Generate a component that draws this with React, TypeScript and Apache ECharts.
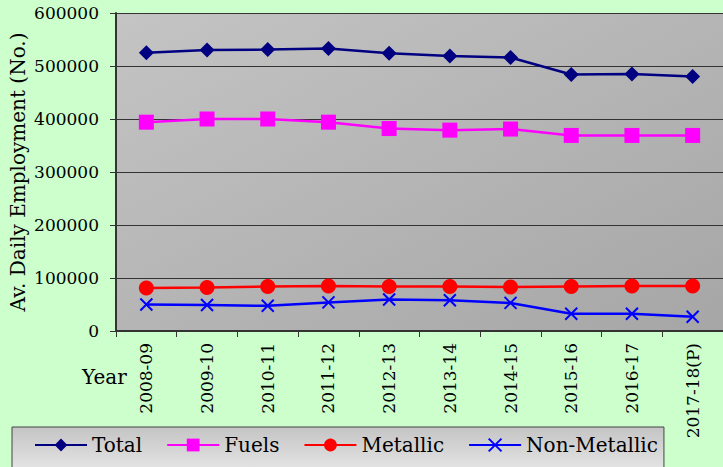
import React, { useEffect, useRef } from "react";
import * as echarts from "echarts";

const years = [
  "2008-09", "2009-10", "2010-11", "2011-12", "2012-13",
  "2013-14", "2014-15", "2015-16", "2016-17", "2017-18(P)",
];
const total = [525000, 530000, 531000, 533000, 524000, 519000, 516000, 484000, 485000, 480000];
const fuels = [394000, 400000, 400000, 394000, 382000, 379000, 381000, 369000, 369000, 369000];
const metallic = [81000, 82000, 84000, 85000, 84000, 84000, 83000, 84000, 85000, 85000];
const nonMetallic = [50000, 49000, 47500, 54000, 59500, 58000, 53000, 32500, 32500, 27000];

const SERIF = "DejaVu Serif";
const CROSS = "path://M0,0L10,10M10,0L0,10";

export default function App() {
  const ref = useRef<HTMLDivElement>(null);

  useEffect(() => {
    if (!ref.current) return;
    const chart = echarts.init(ref.current, undefined, { renderer: "svg" });
    chart.setOption({
      animation: false,
      backgroundColor: "#CCFFCC",
      textStyle: { fontFamily: SERIF },
      grid: {
        left: 116,
        right: 0,
        top: 13,
        bottom: 136,
        containLabel: false,
        outerBoundsMode: "none",
        show: true,
        borderWidth: 0,
        backgroundColor: new echarts.graphic.LinearGradient(0, 0, 1, 1, [
          { offset: 0, color: "#C4C4C4" },
          { offset: 1, color: "#A6A6A6" },
        ]),
      },
      xAxis: {
        type: "category",
        data: years,
        boundaryGap: true,
        axisLine: { lineStyle: { color: "#333333", width: 2 } },
        axisTick: { show: true, length: 6, lineStyle: { color: "#333333" } },
        axisLabel: {
          interval: 0,
          rotate: 90,
          margin: 12,
          color: "#000",
          fontFamily: SERIF,
          fontSize: 17,
        },
      },
      yAxis: {
        type: "value",
        min: 0,
        max: 600000,
        interval: 100000,
        axisLine: { show: true, lineStyle: { color: "#333333", width: 2 } },
        axisTick: { show: true, length: 6, lineStyle: { color: "#333333" } },
        axisLabel: {
          color: "#000",
          fontFamily: SERIF,
          fontSize: 17,
          margin: 17,
          formatter: (v: number) => String(v),
        },
        splitLine: { lineStyle: { color: "#333333", width: 1 } },
      },
      legend: {
        left: 12,
        top: 427,
        padding: [8, 6, 14, 22],
        itemWidth: 52,
        itemHeight: 16,
        itemGap: 24,
        borderColor: "#444444",
        borderWidth: 1,
        backgroundColor: new echarts.graphic.LinearGradient(0, 0, 0, 1, [
          { offset: 0, color: "#C4C4C4" },
          { offset: 1, color: "#E4E4E4" },
        ]),
        textStyle: { color: "#000", fontFamily: SERIF, fontSize: 20 },
        data: ["Total", "Fuels", "Metallic", "Non-Metallic"],
      },
      graphic: [
        {
          type: "text",
          x: 18,
          y: 172,
          rotation: Math.PI / 2,
          style: {
            text: "Av. Daily Employment (No.)",
            fill: "#000",
            fontFamily: SERIF,
            fontSize: 20,
            align: "center",
            verticalAlign: "middle",
          },
        },
        {
          type: "text",
          left: 82,
          top: 367,
          style: { text: "Year", fill: "#000", fontFamily: SERIF, fontSize: 20 },
        },
      ],
      series: [
        {
          name: "Total",
          type: "line",
          data: total,
          symbol: "diamond",
          symbolSize: 15,
          lineStyle: { color: "#000080", width: 2.5 },
          itemStyle: { color: "#000080" },
        },
        {
          name: "Fuels",
          type: "line",
          data: fuels,
          symbol: "rect",
          symbolSize: 15,
          lineStyle: { color: "#FF00FF", width: 2.5 },
          itemStyle: { color: "#FF00FF" },
        },
        {
          name: "Metallic",
          type: "line",
          data: metallic,
          symbol: "circle",
          symbolSize: 15,
          lineStyle: { color: "#FF0000", width: 2.5 },
          itemStyle: { color: "#FF0000" },
        },
        {
          name: "Non-Metallic",
          type: "line",
          data: nonMetallic,
          symbol: CROSS,
          symbolSize: 12,
          lineStyle: { color: "#0000FF", width: 2.5 },
          itemStyle: { color: "#0000FF", borderColor: "#0000FF", borderWidth: 2 },
        },
      ],
    });
    return () => chart.dispose();
  }, []);

  return (
    <div
      ref={ref}
      style={{ position: "fixed", left: 0, top: 0, width: 723, height: 467 }}
    />
  );
}
